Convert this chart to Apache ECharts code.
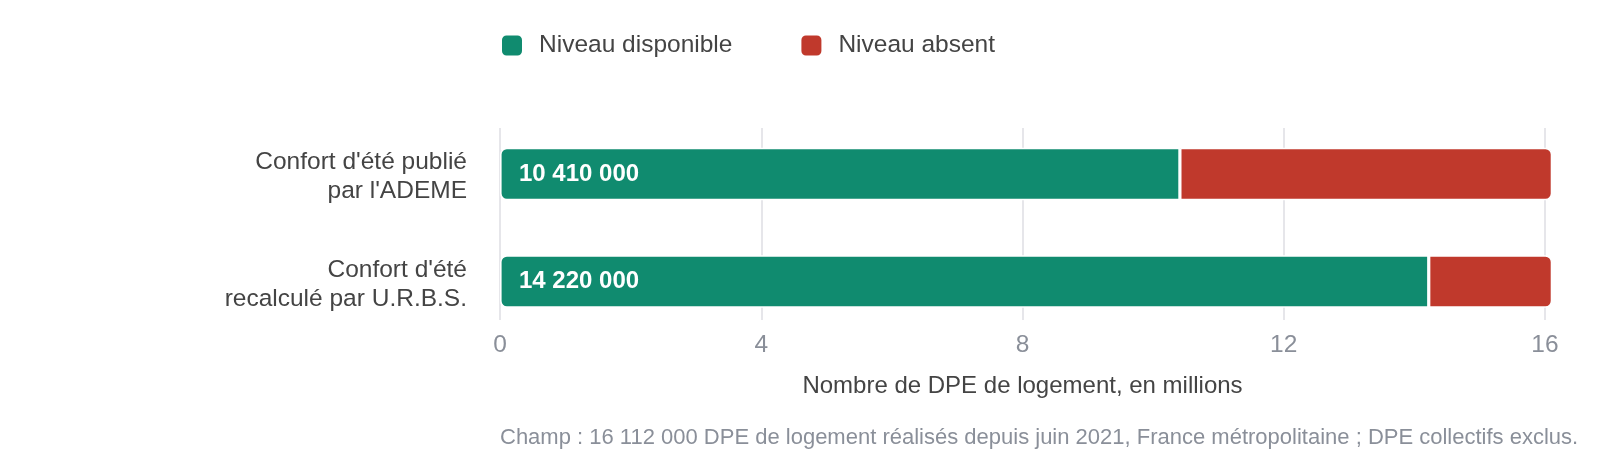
<!DOCTYPE html>
<html>
<head>
<meta charset="utf-8">
<script src="https://cdn.jsdelivr.net/npm/echarts@6/dist/echarts.min.js"></script>
<style>
  html, body { margin: 0; padding: 0; background: #fff; }
  #chart { width: 1600px; height: 460px; }
</style>
</head>
<body>
<div id="chart"></div>
<script>
// données (en millions de DPE)
const categories = ["Confort d'été publié\npar l'ADEME", "Confort d'été\nrecalculé par U.R.B.S."]
const disponible = [10.41, 14.22]
const absent = [5.702, 1.892]
const seriesNames = ['Niveau disponible', 'Niveau absent']
const xMin = 0
const xMax = 16
const xInterval = 4
const axisTitle = 'Nombre de DPE de logement, en millions'
const footnote = 'Champ : 16 112 000 DPE de logement réalisés depuis juin 2021, France métropolitaine ; DPE collectifs exclus.'

const FONT = 'Liberation Sans, Arial, sans-serif'
const GREEN = '#108b6f'
const RED = '#c0392c'

// 10.41 -> "10 410 000"
function fmtCount(v) {
  return String(Math.round(v * 1000) * 1000).replace(/\B(?=(\d{3})+(?!\d))/g, ' ')
}

const chart = echarts.init(document.getElementById('chart'))

const option = {
  backgroundColor: '#fff',
  textStyle: { fontFamily: FONT },
  title: {
    text: footnote,
    left: 495,
    top: 422,
    textStyle: { fontFamily: FONT, fontSize: 22, fontWeight: 'normal', color: '#8a8f99' }
  },
  legend: {
    data: seriesNames,
    left: 495,
    top: 28,
    icon: 'roundRect',
    itemWidth: 22,
    itemHeight: 22,
    itemGap: 67,
    textStyle: { fontFamily: FONT, fontSize: 24.5, color: '#444', padding: [0, 0, 0, 11] }
  },
  grid: [
    // lignes verticales et axe des valeurs
    { left: 500, right: 55, top: 128, height: 192 },
    // barres
    { left: 500, right: 55, top: 120.25, height: 215 },
    // libellés des catégories (un peu plus bas que les barres)
    { left: 500, right: 55, top: 123.25, height: 215 }
  ],
  xAxis: [
    {
      gridIndex: 0,
      type: 'value',
      min: xMin,
      max: xMax,
      interval: xInterval,
      name: axisTitle,
      nameLocation: 'middle',
      nameGap: 54,
      nameTextStyle: { fontFamily: FONT, fontSize: 24, color: '#444' },
      axisLine: { show: false },
      axisTick: { show: false },
      axisLabel: { margin: 13, fontFamily: FONT, fontSize: 24.5, color: '#8a8f99' },
      splitLine: { show: true, lineStyle: { color: '#e6e6ea', width: 2 } }
    },
    { gridIndex: 1, type: 'value', min: xMin, max: xMax, show: false },
    { gridIndex: 2, type: 'value', min: xMin, max: xMax, show: false }
  ],
  yAxis: [
    { gridIndex: 0, type: 'value', show: false },
    {
      gridIndex: 1,
      type: 'category',
      data: categories,
      inverse: true,
      axisLine: { show: false },
      axisTick: { show: false },
      axisLabel: { show: false }
    },
    {
      gridIndex: 2,
      type: 'category',
      data: categories,
      inverse: true,
      axisLine: { show: false },
      axisTick: { show: false },
      axisLabel: {
        margin: 33,
        fontFamily: FONT,
        fontSize: 24.5,
        lineHeight: 29,
        color: '#444',
        align: 'right'
      }
    }
  ],
  series: [
    {
      name: seriesNames[0],
      type: 'bar',
      stack: 'total',
      xAxisIndex: 1,
      yAxisIndex: 1,
      clip: false,
      barWidth: 52.5,
      data: disponible,
      itemStyle: { color: GREEN, borderColor: '#fff', borderWidth: 1.6, borderRadius: [6, 0, 0, 6] },
      label: {
        show: true,
        position: 'insideLeft',
        distance: 19,
        formatter: p => fmtCount(p.value),
        fontFamily: FONT,
        fontSize: 24,
        fontWeight: 'bold',
        color: '#fff'
      }
    },
    {
      name: seriesNames[1],
      type: 'bar',
      stack: 'total',
      xAxisIndex: 1,
      yAxisIndex: 1,
      clip: false,
      barWidth: 52.5,
      data: absent,
      itemStyle: { color: RED, borderColor: '#fff', borderWidth: 1.6, borderRadius: [0, 6, 6, 0] }
    }
  ]
}

chart.setOption(option)
</script>
</body>
</html>
